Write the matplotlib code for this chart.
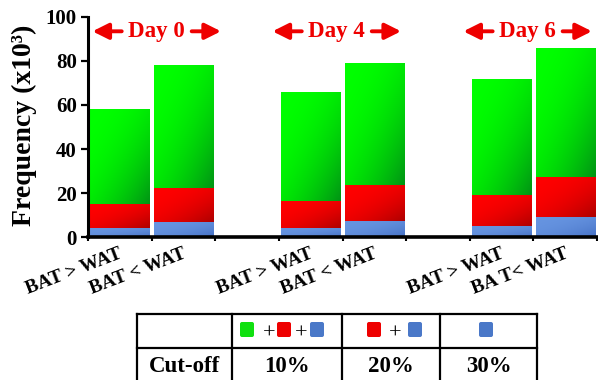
import numpy as np
import matplotlib
matplotlib.use("Agg")
import matplotlib.pyplot as plt
from matplotlib.transforms import Affine2D, ScaledTranslation
from matplotlib.patches import FancyBboxPatch
from matplotlib.lines import Line2D

# ---------------- data ----------------
bar_labels = ["BAT > WAT", "BAT < WAT", "BAT > WAT", "BAT < WAT", "BAT > WAT", "BA T< WAT"]
bar_pos = [0, 1, 3, 4, 6, 7]
blue_vals = [4, 7, 4, 7.5, 5, 9]          # 30% cut-off
red_blue_top = [15, 22.5, 16.5, 23.5, 19, 27.5]  # 20% cut-off (red + blue)
total_vals = [58, 78, 66, 79, 72, 86]      # 10% cut-off (green + red + blue)
day_labels = ["Day 0", "Day 4", "Day 6"]
yticks = [0, 20, 40, 60, 80, 100]
ylabel = "Frequency (x10³)"
cutoff_header = "Cut-off"
cutoff_vals = ["10%", "20%", "30%"]

red_vals = [r - b for r, b in zip(red_blue_top, blue_vals)]
green_vals = [t - r for t, r in zip(total_vals, red_blue_top)]

W, H = 598, 380
plt.rcParams['font.family'] = ['Liberation Serif', 'DejaVu Serif']
plt.rcParams['font.weight'] = 'bold'
fig = plt.figure(figsize=(W / 100, H / 100), dpi=100)
ax = fig.add_axes([88 / W, 1 - 237 / H, 509 / W, 220 / H])

GREEN = (np.array([0.0, 1.0, 0.0]), np.array([0.0, 0.58, 0.08]))
RED = (np.array([1.0, 0.0, 0.0]), np.array([0.68, 0.0, 0.0]))
BLUE = (np.array([0.40, 0.58, 0.88]), np.array([0.27, 0.44, 0.77]))

width = 0.93


def grad_bar(x, bottom, height, cols):
    light, dark = cols
    bar = ax.bar(x, height, width, bottom=bottom, color=light, linewidth=0, zorder=2)[0]
    n = 80
    u = np.linspace(0, 1, n)[None, :]
    v = np.linspace(0, 1, n)[:, None]
    t = np.clip((u + v) / 2, 0, 1) ** 2.2
    img = light[None, None, :] * (1 - t)[..., None] + dark[None, None, :] * t[..., None]
    im = ax.imshow(img, extent=[x - width / 2, x + width / 2, bottom, bottom + height],
                   origin='upper', aspect='auto', zorder=2.1, interpolation='bilinear')
    im.set_clip_path(bar)


for x, b, r, g in zip(bar_pos, blue_vals, red_vals, green_vals):
    grad_bar(x, 0, b, BLUE)
    grad_bar(x, b, r, RED)
    grad_bar(x, b + r, g, GREEN)

ax.set_xlim(-0.5, 7.5)
ax.set_ylim(0, 100)
ax.set_aspect('auto')

for s in ['top', 'right']:
    ax.spines[s].set_visible(False)
ax.spines['left'].set_linewidth(2.2)
ax.spines['bottom'].set_linewidth(2.6)

ax.set_yticks(yticks)
ax.set_yticklabels([str(v) for v in yticks], fontsize=15, fontweight='bold')
ax.tick_params(axis='y', direction='out', length=5, width=1.6, pad=3)

ax.set_xticks(bar_pos)
ax.set_xticklabels(bar_labels, fontsize=14, fontweight='bold', rotation=21,
                   ha='right', rotation_mode='anchor')
ax.tick_params(axis='x', which='major', length=0, pad=6)
ax.set_xticks(np.arange(-0.5, 8, 1), minor=True)
ax.tick_params(axis='x', which='minor', direction='out', length=3, width=1.5)
offs = ScaledTranslation(-1 / 100, 0, fig.dpi_scale_trans)
for lab in ax.get_xticklabels():
    lab.set_transform(lab.get_transform() + offs)

# Day annotations
groups = [(bar_pos[0] + bar_pos[1]) / 2, (bar_pos[2] + bar_pos[3]) / 2, (bar_pos[4] + bar_pos[5]) / 2]
shifts = [0.17, 0.0, 0.0]
ya = 93.5
astyle = dict(arrowstyle='-|>,head_length=0.6,head_width=0.3', color='#ee0000', lw=2.8,
              mutation_scale=16, shrinkA=0, shrinkB=0)
for gc, sh, lab in zip(groups, shifts, day_labels):
    c = gc + sh
    ax.text(c - 0.1, ya, lab, color='#ee0000', fontsize=16.5, fontweight='bold',
            ha='center', va='center', zorder=5)
    ax.annotate('', xy=(c - 1.1, ya), xytext=(c - 0.64, ya), arrowprops=astyle, annotation_clip=False)
    ax.annotate('', xy=(c + 0.92, ya), xytext=(c + 0.46, ya), arrowprops=astyle, annotation_clip=False)

# pixel transform for figure-level decorations
ptr = Affine2D().scale(1 / W, -1 / H).translate(0, 1) + fig.transFigure

fig.text(24, 125, ylabel, transform=ptr, rotation=90, fontsize=20, fontweight='bold',
         ha='center', va='center')

# table
cols = [137, 232, 342, 440, 537]
rows = [314, 348, 386]
lw = 1.6
for x in cols:
    fig.add_artist(Line2D([x, x], [rows[0], rows[-1]], transform=ptr, color='black', lw=lw))
for y in rows:
    fig.add_artist(Line2D([cols[0], cols[-1]], [y, y], transform=ptr, color='black', lw=lw))

ty = 366
fig.text((cols[0] + cols[1]) / 2, ty, cutoff_header, transform=ptr, fontsize=16.5,
         fontweight='bold', ha='center', va='center')
for i, v in enumerate(cutoff_vals):
    fig.text((cols[i + 1] + cols[i + 2]) / 2, ty, v, transform=ptr, fontsize=16.5,
             fontweight='bold', ha='center', va='center')


def square(x0, col):
    p = FancyBboxPatch((x0 + 1.5, 323.5), 11, 12, boxstyle='round,pad=1.5,rounding_size=2',
                       transform=ptr, facecolor=col, edgecolor='none')
    fig.add_artist(p)


def plus(xc):
    fig.text(xc, 339, '+', transform=ptr, fontsize=16, fontweight='normal',
             ha='center', va='baseline')


sq_green, sq_red, sq_blue = '#10e010', '#ee0000', '#4a78c8'
square(240, sq_green); plus(269.5); square(277, sq_red); plus(301.5); square(310, sq_blue)
square(367, sq_red); plus(395); square(408, sq_blue)
square(479, sq_blue)

fig.savefig('out.png', dpi=100)
